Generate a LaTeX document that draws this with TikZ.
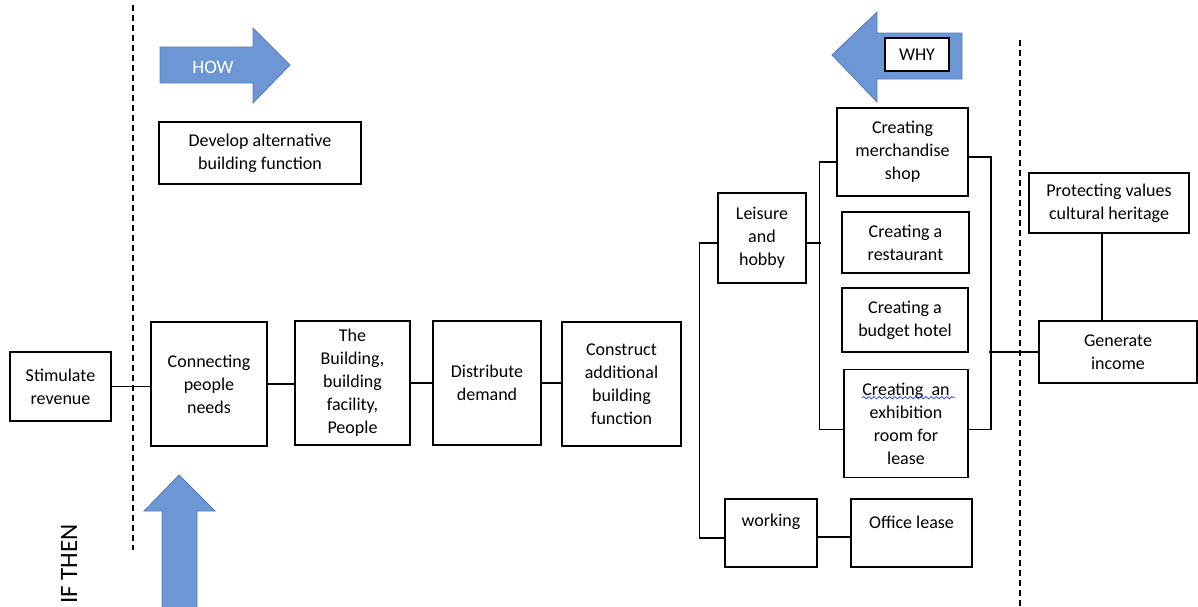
\documentclass[tikz,border=0pt]{standalone}
\usepackage{fontspec}
\setmainfont{Carlito}
\usepackage{tikz}
\usetikzlibrary{decorations.pathmorphing}
\definecolor{cuefill}{RGB}{108,151,212}
\definecolor{cueedge}{RGB}{82,124,184}
\definecolor{spellblue}{RGB}{60,80,220}

\begin{document}
\begin{tikzpicture}[x=0.5pt,y=-0.5pt,
  box/.style={draw,line width=0.8pt,align=center,inner sep=0pt,
    font=\fontsize{9}{11.5}\selectfont},
  wh/.style 2 args={minimum width=#1*0.5pt,minimum height=#2*0.5pt},
  link/.style={line width=0.7pt},
  guide/.style={line width=0.6pt,dash pattern=on 3pt off 2pt},
  cue/.style={fill=cuefill,draw=cueedge,line width=0.4pt},
  spell/.style={spellblue,line width=0.4pt,
    decorate,decoration={snake,amplitude=0.6pt,segment length=2.6pt}}
]
\useasboundingbox (0,0) rectangle (1198,606);
\draw[guide] (133,5) -- (133,550);
\draw[guide] (1020,40) -- (1020,606);
\filldraw[cue] (160,47) -- (253,47) -- (253,28) -- (290,65) -- (253,103)
  -- (253,83) -- (160,83) -- cycle;
\node[text=white,font=\fontsize{9.5}{11}\selectfont] (how) at (213,67) {HOW};
\filldraw[cue] (962,33) -- (877,33) -- (877,12) -- (832,55) -- (877,102)
  -- (877,79) -- (962,79) -- cycle;
\node[draw,fill=white,line width=0.8pt,inner sep=0pt,wh={64}{33},
  font=\fontsize{9}{11}\selectfont] (why) at (917,54.5) {WHY};
\filldraw[cue] (162,625) -- (162,511) -- (144,511) -- (179,475) -- (215,511)
  -- (197,511) -- (197,625) -- cycle;
\node[rotate=90,anchor=west,inner sep=0pt,font=\fontsize{12.5}{15}\selectfont]
  (ifthen) at (69,604) {IF THEN};
\node[box,wh={202}{62}] (devl) at (260,153) {Develop alternative\\building function};
\node[box,wh={101}{69}] (stim) at (60.5,386.5) {Stimulate\\revenue};
\node[box,wh={116}{124}] (conn) at (209,384) {Connecting\\people\\needs};
\node[box,wh={115}{124}] (bldg) at (352.5,383) {The\\Building,\\building\\facility,\\People};
\node[box,wh={108}{124}] (dist) at (487,383) {Distribute\\demand};
\node[box,wh={119}{124}] (cons) at (621.5,384) {Construct\\additional\\building\\function};
\node[box,wh={88}{90}] (leis) at (762,238) {Leisure\\and\\hobby};
\node[box,wh={92}{68}] (work) at (771,533) {\raisebox{5.5pt}[\height][\depth]{working}};
\node[box,wh={121}{68}] (offi) at (911.5,533) {\raisebox{5.5pt}[\height][\depth]{Office lease}};
\node[box,wh={131}{88}] (merc) at (902.5,152) {Creating\\merchandise\\shop};
\node[box,wh={127}{61}] (rest) at (905.5,242.5) {Creating a\\restaurant};
\node[box,wh={126}{64}] (hotl) at (905,320) {Creating a\\budget hotel};
\node[box,wh={124}{108}] (exhb) at (906,423.5) {Creating~ an\\exhibition\\room for\\lease};
\node[box,wh={160}{60}] (prot) at (1109,203) {Protecting values\\cultural heritage};
\node[box,wh={158}{62}] (gen) at (1118,352) {Generate\\income};
\draw[spell] ([shift={(-44,29)}]exhb.north) -- ([shift={(49,29)}]exhb.north);
\draw[link] (stim.east) -- (stim.east -| conn.west);
\draw[link] (conn.east) -- (conn.east -| bldg.west);
\draw[link] (bldg.east) -- (bldg.east -| dist.west);
\draw[link] (dist.east) -- (dist.east -| cons.west);
\draw[link] ([yshift=-2.5pt]leis.west) -- ++(-18,0) |- ([yshift=-2.5pt]work.west);
\draw[link] ([yshift=-2pt]work.east) -- ([yshift=-2pt]offi.west);
\draw[link] ([yshift=-2.5pt]leis.east) -- ++(14,0);
\draw[link] ([yshift=-5pt]merc.west) -- ++(-17,0) |- ([yshift=-3pt]exhb.west);
\draw[link] ([yshift=-2.5pt]merc.east) -- ++(22,0) |- ([yshift=-3pt]exhb.east);
\draw[link] (gen.west) -- ++(-49,0);
\draw[link] ([xshift=-3.5pt]prot.south) -- ([xshift=-3.5pt]prot.south |- gen.north);
\end{tikzpicture}
\end{document}
